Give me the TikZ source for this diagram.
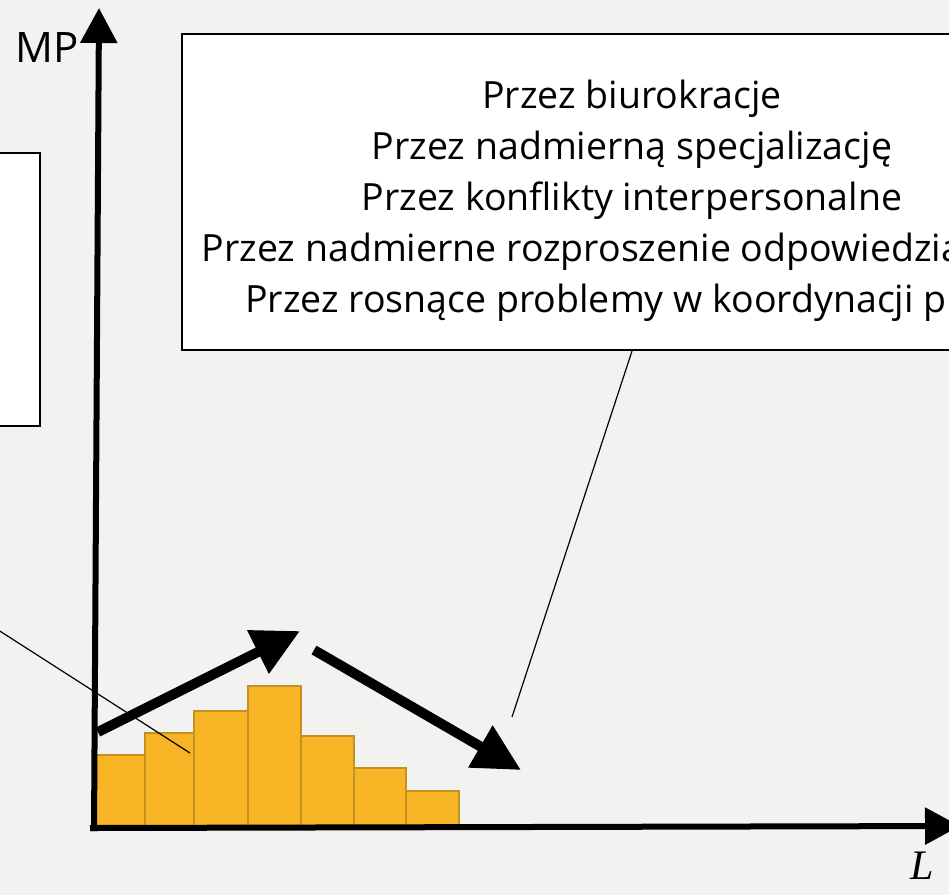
\documentclass[tikz,border=0pt]{standalone}
\usepackage{fontspec}
\setmainfont{Open Sans}
\newfontfamily\serifit{Liberation Serif}
\usetikzlibrary{arrows.meta}
\definecolor{bg}{RGB}{242,242,240}
\definecolor{barfill}{RGB}{247,180,36}
\definecolor{barline}{RGB}{196,145,32}
\begin{document}
\begin{tikzpicture}[x=1pt,y=-1pt,
  barbox/.style={fill=barfill, draw=barline, line width=2.8pt},
  axisline/.style={line width=6pt, -{Triangle[length=35pt,width=36pt]}},
  bigarrow/.style={line width=10pt, -{Triangle[length=47pt,width=46pt]}},
  thinline/.style={line width=1.2pt},
  framebox/.style={draw, line width=2pt, fill=white, inner sep=0pt},
  boxtext/.style={font=\fontsize{37.5}{51}\selectfont, align=center, inner sep=0pt},
]
\useasboundingbox (0,0) rectangle (949,895);
\fill[bg] (0,0) rectangle (949,895);
\clip (0,0) rectangle (949,895);

% left (clipped) box
\node[framebox, minimum width=440pt, minimum height=273pt] (lbox) at (-180,289.5) {};

% text box
\node[framebox, minimum width=900pt, minimum height=316pt] (tbox) at (632,192) {};
\node[boxtext, anchor=north] (tboxtext) at (632,80) {Przez biurokracje\\
Przez nadmierną specjalizację\\
Przez konflikty interpersonalne\\
Przez nadmierne rozproszenie odpowiedzialności\\
Przez rosnące problemy w koordynacji pracy};

% bars
\foreach \xa/\xb/\yt [count=\i] in {95/145/755,145/194/733,194/248/711,248/301/686,301/354/736,354/406/768,406/459/791}{
  \path[barbox] (\xa,828) rectangle (\xb,\yt);
}

% axes
\coordinate (O) at (94,831);
\coordinate (ytip) at (99,8);
\coordinate (xO) at (90,828);
\coordinate (xtip) at (960,826);
\draw[axisline] (O) -- (ytip);
\draw[axisline] (xO) -- (xtip);

\node[font=\fontsize{42}{42}\selectfont, inner sep=0pt] (mp) at (47,48) {MP};
\node[font=\serifit\itshape\fontsize{42}{42}\selectfont, inner sep=0pt] (lab) at (922,866) {L};

% bold trend arrows
\coordinate (u1) at (98,732);
\coordinate (u2) at (300,631);
\coordinate (d1) at (314,650);
\coordinate (d2) at (521,770);
\draw[bigarrow] (u1) -- (u2);
\draw[bigarrow] (d1) -- (d2);

% thin connectors
\coordinate (lstart) at (-100,567);
\coordinate (lend) at (190,753);
\draw[thinline] (lstart) -- (lend);
\coordinate (tend) at (512,717);
\draw[thinline] (tbox.south) -- (tend);
\end{tikzpicture}
\end{document}
